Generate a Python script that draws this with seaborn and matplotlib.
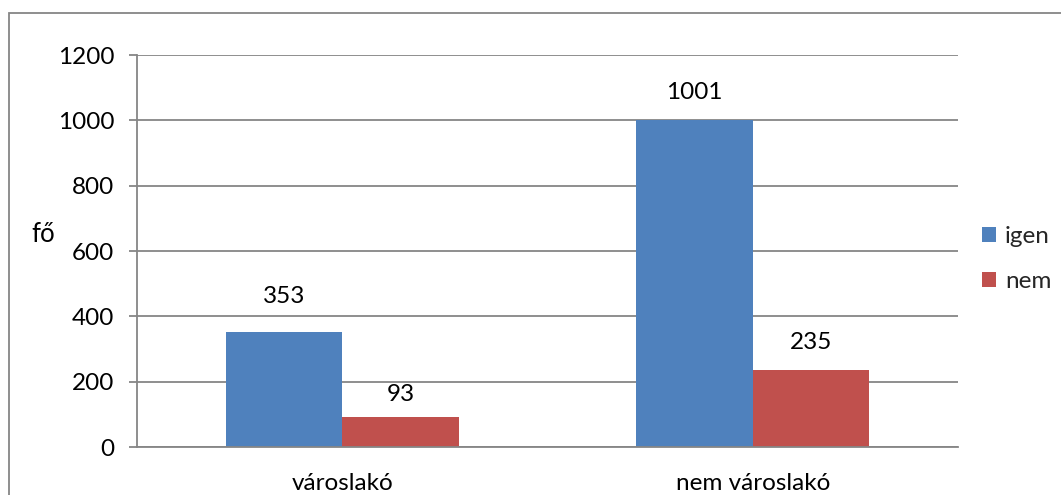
import matplotlib
matplotlib.use("Agg")
import matplotlib.pyplot as plt
from matplotlib.patches import Rectangle
import seaborn as sns
import pandas as pd

categories = ["városlakó", "nem városlakó"]
series = ["igen", "nem"]
igen_values = [353, 1001]
nem_values = [93, 235]
y_ticks = [0, 200, 400, 600, 800, 1000, 1200]
y_label = "fő"

colors = {"igen": "#4F81BD", "nem": "#C0504D"}
label_offsets_px = {"igen": [35, 28], "nem": [22, 28]}

df = pd.DataFrame({
    "cat": categories * 2,
    "series": ["igen"] * len(categories) + ["nem"] * len(categories),
    "value": igen_values + nem_values,
})

sns.set_theme(style="white")
plt.rcParams["font.family"] = ["Lato", "DejaVu Sans"]
FS = 17.5

W, H = 1061, 495
fig = plt.figure(figsize=(W / 100, H / 100), dpi=100)
ax = fig.add_axes([137 / W, 1 - 447 / H, (958 - 137) / W, (447 - 55) / H])

sns.barplot(data=df, x="cat", y="value", hue="series", order=categories,
            hue_order=series, palette=colors, width=0.567, gap=0,
            saturation=1, ax=ax, legend=True, edgecolor="none", linewidth=0)

ax.set_xlim(-0.5, len(categories) - 0.5)
ax.set_ylim(0, 1200)
ax.set_yticks(y_ticks)
ax.set_yticklabels([str(t) for t in y_ticks], fontsize=FS, color="black")
ax.set_xticks(range(len(categories)))
ax.set_xticklabels(categories, fontsize=FS, color="black")
ax.set_xticks([i - 0.5 for i in range(len(categories) + 1)], minor=True)
ax.tick_params(axis="x", which="major", length=0, pad=19)
ax.tick_params(axis="x", which="minor", length=5.5, width=1.3, color="#868686", direction="out")
ax.tick_params(axis="y", which="major", length=5.5, width=1.3, color="#868686", direction="out", pad=11, left=True)
ax.set_xlabel("")
ax.set_ylabel(y_label, fontsize=FS + 1, rotation=0, color="black")
ax.yaxis.set_label_coords(-0.114, 0.51)

ax.grid(axis="y", color="#868686", linewidth=1.3)
ax.set_axisbelow(True)
for s in ["top", "right"]:
    ax.spines[s].set_visible(False)
for s in ["left", "bottom"]:
    ax.spines[s].set_color("#868686")
    ax.spines[s].set_linewidth(1.3)

# value labels
for cont, name in zip(ax.containers, series):
    offs = label_offsets_px[name]
    for bar, off in zip(cont, offs):
        h = bar.get_height()
        ax.annotate(f"{int(round(h))}", (bar.get_x() + bar.get_width() / 2, h),
                    xytext=(0, off * 0.72), textcoords="offset points",
                    ha="center", va="center", fontsize=FS, color="black")

leg = ax.legend(loc="center left", bbox_to_anchor=(960 / W, 1 - 259 / H),
                bbox_transform=fig.transFigure, frameon=False, fontsize=FS,
                handlelength=0.6, handleheight=0.6, handletextpad=0.35,
                labelspacing=1.0)

fig.patches.append(Rectangle((8.5 / W, -0.1), 1.5, 1 - 12.5 / H + 0.1,
                             transform=fig.transFigure, fill=False,
                             edgecolor="#868686", linewidth=1.3, zorder=-1))

fig.savefig("out.png", dpi=100, facecolor="white")
